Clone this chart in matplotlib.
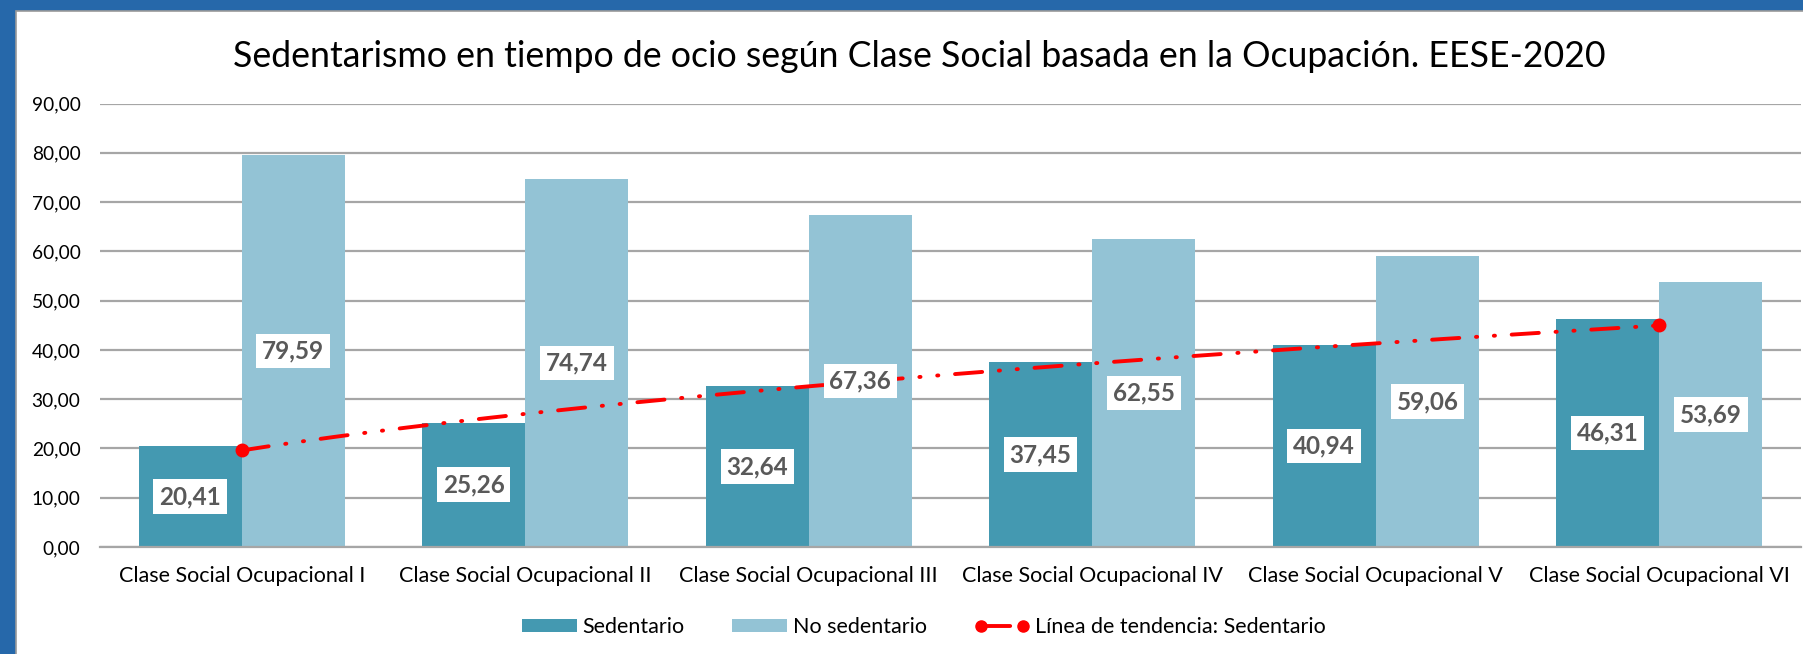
"""Sedentarismo en tiempo de ocio segun clase social ocupacional (EESE-2020)."""

import matplotlib

matplotlib.use("Agg")
import numpy as np
from matplotlib import pyplot as plt
from matplotlib.lines import Line2D
from matplotlib.patches import Patch, Rectangle

categories = [
    "Clase Social Ocupacional I",
    "Clase Social Ocupacional II",
    "Clase Social Ocupacional III",
    "Clase Social Ocupacional IV",
    "Clase Social Ocupacional V",
    "Clase Social Ocupacional VI",
]
sedentario = [20.41, 25.26, 32.64, 37.45, 40.94, 46.31]
no_sedentario = [79.59, 74.74, 67.36, 62.55, 59.06, 53.69]
y_ticks = [0, 10, 20, 30, 40, 50, 60, 70, 80, 90]

title = "Sedentarismo en tiempo de ocio según Clase Social basada en la Ocupación. EESE-2020"
dark = "#4499B1"
light = "#93C3D5"
grid_grey = "#A6A6A6"
label_grey = "#595959"

plt.rcParams["font.family"] = ["Lato", "DejaVu Sans"]

W, H = 1803, 654
fig = plt.figure(figsize=(W / 100, H / 100), dpi=100, facecolor="#2668AA")
# white panel inside the blue frame
fig.patches.append(
    Rectangle((16 / W, -0.01), 1.0, (H - 11) / H + 0.01, transform=fig.transFigure,
              facecolor="white", edgecolor="#9A9A9A", linewidth=1.2, zorder=-5)
)

ax = fig.add_axes([100 / W, 1 - 547 / H, 1701 / W, (547 - 103.5) / H])
ax.set_facecolor("none")

x = np.arange(len(categories))
width = 0.364
bars_s = ax.bar(x - width / 2, sedentario, width, color=dark, zorder=2)
bars_n = ax.bar(x + width / 2, no_sedentario, width, color=light, zorder=2)

for bars, values in ((bars_s, sedentario), (bars_n, no_sedentario)):
    for bar, value in zip(bars, values):
        ax.text(
            bar.get_x() + bar.get_width() / 2,
            value / 2,
            f"{value:.2f}".replace(".", ","),
            ha="center",
            va="center",
            fontsize=17.5,
            fontweight="bold",
            color=label_grey,
            zorder=4,
            bbox=dict(boxstyle="square,pad=0.24", facecolor="white", edgecolor="none"),
        )

# power trend line of the Sedentario series (Excel-style trendline)
coef = np.polyfit(np.log(x + 1), np.log(sedentario), 1)
xs = np.linspace(0, len(categories) - 1, 200)
trend = np.exp(coef[1]) * (xs + 1) ** coef[0]
trend_style = (0, (7, 4.3, 0.3, 4.3, 0.3, 4.3))
ax.plot(xs, trend, color="red", linewidth=2.8, linestyle=trend_style,
        dash_capstyle="round", zorder=3)
ax.plot(xs[[0, -1]], trend[[0, -1]], "o", color="red", markersize=9, zorder=3)

ax.set_xlim(-0.5, len(categories) - 0.5)
ax.set_ylim(0, 90)
ax.set_yticks(y_ticks)
ax.set_yticklabels([f"{v:.2f}".replace(".", ",") for v in y_ticks], fontsize=13.8)
ax.set_xticks(x)
ax.set_xticklabels(categories, fontsize=15.5)
ax.tick_params(length=0, pad=14)
ax.tick_params(axis="x", pad=14)
ax.grid(axis="y", color=grid_grey, linewidth=1.6, zorder=0)
ax.set_axisbelow(True)
for side in ("left", "right", "top"):
    ax.spines[side].set_visible(False)
ax.spines["bottom"].set_color(grid_grey)
ax.spines["bottom"].set_linewidth(1.6)

fig.text(0.510, 0.913, title, ha="center", va="center", fontsize=25.7)

handles = [
    Patch(facecolor=dark),
    Patch(facecolor=light),
    Line2D([], [], color="red", linewidth=2.8, linestyle=(0, (7.5, 2.6, 0.3, 2.6)),
           dash_capstyle="round", marker="o", markersize=8),
]
fig.legend(
    handles,
    ["Sedentario", "No sedentario", "Línea de tendencia: Sedentario"],
    loc="center",
    bbox_to_anchor=(0.5125, 0.041),
    ncol=3,
    frameon=False,
    numpoints=2,
    fontsize=15.5,
    handlelength=2.55,
    handleheight=0.6,
    handletextpad=0.28,
    columnspacing=2.2,
)

fig.savefig("out.png", dpi=100)
